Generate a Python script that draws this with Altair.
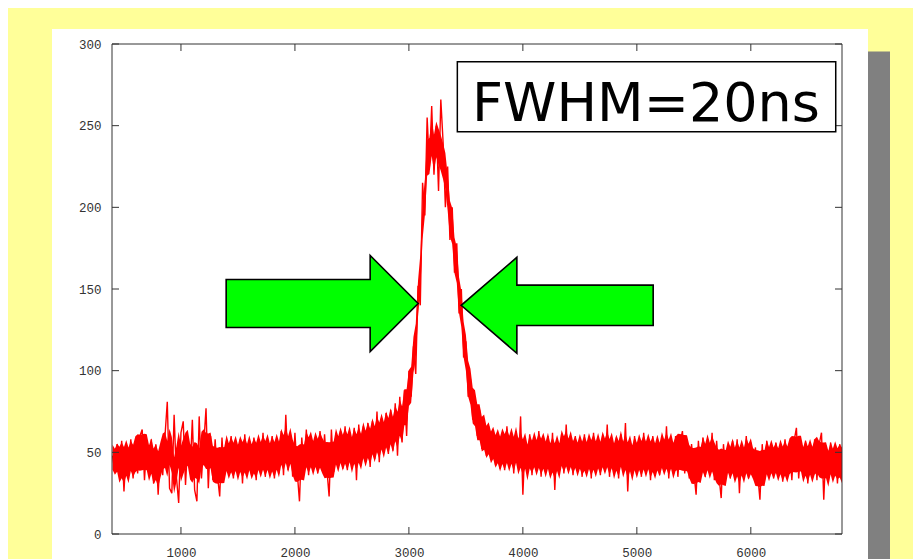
import altair as alt
import pandas as pd

# ---- data ----
counts = [
    48, 38, 55, 36, 57, 26, 52, 40, 58, 34,
    55, 37, 60, 64, 33, 56, 39, 58, 31, 55,
    24, 52, 36, 60, 81, 28, 25, 73, 35, 19,
    62, 69, 30, 57, 38, 70, 27, 20, 72, 34,
    55, 77, 28, 60, 33, 58, 36, 23, 59, 35,
    57, 37, 60, 34, 56, 39, 58, 31, 61, 38,
    55, 36, 59, 33, 57, 40, 62, 35, 56, 38,
    60, 34, 58, 37, 63, 36, 73, 39, 61, 35,
    62, 38, 20, 59, 40, 64, 36, 60, 41, 58,
    37, 63, 39, 61, 40, 23, 64, 38, 62, 41,
    63, 40, 66, 39, 62, 43, 65, 33, 67, 42,
    66, 44, 68, 41, 69, 46, 75, 44, 71, 50,
    74, 49, 76, 51, 80, 48, 84, 56, 88, 60,
    100, 84, 115, 98, 152, 140, 215, 195, 255, 225,
    262, 220, 250, 210, 266, 240, 200, 225, 180, 200,
    160, 178, 135, 150, 108, 118, 84, 95, 70, 84,
    60, 76, 52, 70, 48, 66, 46, 63, 42, 62,
    40, 62, 39, 66, 44, 60, 37, 63, 41, 72,
    24, 58, 40, 61, 36, 57, 42, 63, 35, 59,
    38, 60, 36, 62, 27, 58, 40, 61, 37, 67,
    39, 58, 36, 60, 41, 56, 35, 61, 38, 59,
    34, 62, 40, 57, 36, 60, 39, 67, 35, 58,
    37, 59, 34, 61, 39, 68, 26, 57, 36, 60,
    38, 56, 35, 62, 40, 58, 33, 60, 37, 57,
    36, 59, 39, 66, 34, 57, 38, 60, 35, 56,
    63, 37, 58, 34, 55, 38, 24, 57, 36, 59,
    35, 56, 38, 62, 33, 57, 36, 22, 55, 37,
    54, 34, 57, 36, 58, 25, 55, 36, 60, 34,
    56, 35, 53, 37, 21, 55, 33, 57, 36, 54,
    34, 56, 37, 53, 32, 58, 35, 55, 33, 57,
    65, 34, 54, 36, 57, 31, 55, 35, 58, 33,
    55, 62, 21, 54, 33, 56, 36, 53, 31, 55, 40,
]
first_channel = 400
channel_step = 20
channels = [first_channel + channel_step * i for i in range(len(counts))]

x_ticks = [1000, 2000, 3000, 4000, 5000, 6000]
y_ticks = [0, 50, 100, 150, 200, 250, 300]
x_domain = [395, 6800]
y_domain = [0, 300]

arrow_x = [2239, 4301]
arrow_y = [141.1, 140.0]
box_x = [3425, 6745]
box_y = [289.2, 246.3]
label_text = "FWHM=20ns"
label_x = 5080
label_y = 253

# ---- layout ----
W, H = 730, 490
YELLOW = "#FFFF99"
AXIS_COLOR = "#333333"
RED = "#FF0000"

xs = alt.Scale(domain=x_domain, nice=False, zero=False)
ys = alt.Scale(domain=y_domain, nice=False, zero=False)
xaxis = alt.Axis(values=x_ticks, tickSize=0, domain=False, grid=False, title=None,
                 labelFont="Liberation Mono", labelFontSize=12.5, labelColor=AXIS_COLOR,
                 labelPadding=12, format="d", zindex=1)
yaxis = alt.Axis(values=y_ticks, tickSize=0, domain=False, grid=False, title=None,
                 labelFont="Liberation Mono", labelFontSize=12.5, labelColor=AXIS_COLOR,
                 labelPadding=11, format="d", zindex=1)

one = alt.Data(values=[{"a": 1}])

shadow = alt.Chart(one).mark_rect(color="#808080").encode(
    x=alt.value(756), x2=alt.value(778), y=alt.value(7.5), y2=alt.value(530))
panel = alt.Chart(one).mark_rect(color="white").encode(
    x=alt.value(-60), x2=alt.value(756), y=alt.value(-15), y2=alt.value(530))

df = pd.DataFrame({"x": channels, "y": counts})

# dense core of the noisy trace: rolling mean +/- a capped fraction of rolling spread
core = alt.Chart(df).transform_window(
    m="mean(y)", s="stdev(y)", frame=[-2, 2], sort=[alt.SortField("x")]
).transform_calculate(
    d="min(0.9 * datum.s, 11)"
).transform_calculate(
    lo="datum.m - datum.d", hi="datum.m + datum.d"
).mark_area(color=RED, clip=True).encode(
    x=alt.X("x:Q", scale=xs, axis=xaxis),
    y=alt.Y("lo:Q", scale=ys, axis=yaxis),
    y2="hi:Q",
)

line = alt.Chart(df).mark_line(color=RED, strokeWidth=1.4, clip=True).encode(
    x=alt.X("x:Q", scale=xs, axis=xaxis),
    y=alt.Y("y:Q", scale=ys, axis=yaxis),
)

frame = alt.Chart(one).mark_rect(fillOpacity=0, stroke=AXIS_COLOR, strokeWidth=1).encode(
    x=alt.value(0), x2=alt.value(W), y=alt.value(0), y2=alt.value(H))

ydf = pd.DataFrame({"y": y_ticks})
xdf = pd.DataFrame({"x": x_ticks})
tick_left = alt.Chart(ydf).mark_rule(color=AXIS_COLOR, strokeWidth=1).encode(
    y=alt.Y("y:Q", scale=ys, axis=yaxis), x=alt.value(0), x2=alt.value(7))
tick_right = alt.Chart(ydf).mark_rule(color=AXIS_COLOR, strokeWidth=1).encode(
    y=alt.Y("y:Q", scale=ys, axis=yaxis), x=alt.value(W - 7), x2=alt.value(W))
tick_bottom = alt.Chart(xdf).mark_rule(color=AXIS_COLOR, strokeWidth=1).encode(
    x=alt.X("x:Q", scale=xs, axis=xaxis), y=alt.value(H - 7), y2=alt.value(H))
tick_top = alt.Chart(xdf).mark_rule(color=AXIS_COLOR, strokeWidth=1).encode(
    x=alt.X("x:Q", scale=xs, axis=xaxis), y=alt.value(0), y2=alt.value(7))

right_arrow_path = "M-1,-0.25L0.5,-0.25L0.5,-0.5L1,0L0.5,0.5L0.5,0.25L-1,0.25Z"
left_arrow_path = "M1,-0.21L-0.42,-0.21L-0.42,-0.5L-1,0L-0.42,0.5L-0.42,0.21L1,0.21Z"
arrow_size = 192 * 192

arrow1 = alt.Chart(pd.DataFrame({"x": [arrow_x[0]], "y": [arrow_y[0]]})).mark_point(
    shape=right_arrow_path, size=arrow_size, filled=True, fill="#00FF00", stroke="black",
    strokeWidth=1.6, opacity=1).encode(
    x=alt.X("x:Q", scale=xs, axis=xaxis), y=alt.Y("y:Q", scale=ys, axis=yaxis))
arrow2 = alt.Chart(pd.DataFrame({"x": [arrow_x[1]], "y": [arrow_y[1]]})).mark_point(
    shape=left_arrow_path, size=arrow_size, filled=True, fill="#00FF00", stroke="black",
    strokeWidth=1.6, opacity=1).encode(
    x=alt.X("x:Q", scale=xs, axis=xaxis), y=alt.Y("y:Q", scale=ys, axis=yaxis))

box = alt.Chart(pd.DataFrame({"x": [box_x[0]], "x2": [box_x[1]],
                              "y": [box_y[0]], "y2": [box_y[1]]})).mark_rect(
    fill="white", stroke="black", strokeWidth=1.5).encode(
    x=alt.X("x:Q", scale=xs, axis=xaxis), x2="x2:Q",
    y=alt.Y("y:Q", scale=ys, axis=yaxis), y2="y2:Q")

label = alt.Chart(pd.DataFrame({"x": [label_x], "y": [label_y], "t": [label_text]})).mark_text(
    font="DejaVu Sans", fontSize=54, align="center", baseline="alphabetic", color="black").encode(
    x=alt.X("x:Q", scale=xs, axis=xaxis), y=alt.Y("y:Q", scale=ys, axis=yaxis), text="t:N")

chart = alt.layer(shadow, panel, core, line, frame, tick_left, tick_right, tick_bottom, tick_top,
                  arrow1, arrow2, box, label).properties(
    width=W, height=H,
    autosize=alt.AutoSizeParams(type="none"),
    padding={"left": 104, "top": 36, "right": 71, "bottom": 25},
    background=YELLOW,
).configure_view(stroke=None)

chart.save("out.html", embed_options={"renderer": "svg", "actions": False})
